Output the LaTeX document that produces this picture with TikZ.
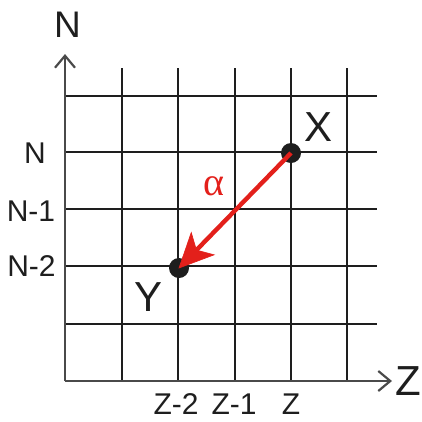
\documentclass[tikz,border=0pt]{standalone}
\usepackage{fontspec}
\setmainfont{Liberation Sans}
\newfontfamily\greekfont{Liberation Serif}
\usetikzlibrary{arrows.meta,calc}
\definecolor{ink}{HTML}{1E1E1E}
\definecolor{axisgray}{HTML}{4A4A4A}
\definecolor{arrowred}{HTML}{E3201B}
\tikzset{
  gridline/.style={ink, line width=1.6pt},
  axisline/.style={axisgray, line width=2.4pt, -{Straight Barb[length=12pt,width=20pt,line width=2.2pt]}},
  dotnode/.style={circle, fill=ink, inner sep=0pt, minimum size=20pt},
  ticklbl/.style={text=ink, font=\fontsize{30}{30}\selectfont, inner sep=0pt},
  biglbl/.style={text=ink, font=\fontsize{40}{40}\selectfont, inner sep=0pt},
  ptlbl/.style={text=ink, font=\fontsize{42}{42}\selectfont, inner sep=0pt},
  vec/.style={arrowred, line width=4.4pt},
  vechead/.style={fill=arrowred, draw=arrowred, line width=0.6pt, line join=miter}
}
\begin{document}
\begin{tikzpicture}[x=1pt,y=-1pt]
\useasboundingbox (0,0) rectangle (422,421);
% grid
\foreach \x in {122,178,235,291,347} \draw[gridline] (\x,68) -- (\x,381);
\foreach \y in {96,152,209,266,324} \draw[gridline] (65,\y) -- (377,\y);
% axes
\coordinate (O) at (65,381);
\coordinate (Ntop) at (65,54);
\coordinate (Zend) at (392,381);
\draw[axisline] (O) -- (Ntop);
\draw[axisline] (O) -- (Zend);
\node[biglbl, font=\fontsize{37}{37}\selectfont] (Nlab) at (67.5,25) {N};
\node[biglbl, font=\fontsize{42}{42}\selectfont] (Zlab) at (408,381) {Z};
% tick labels
\node[ticklbl] (t1) at (35,153.5) {N};
\node[ticklbl] (t2) at (31,211) {N-1};
\node[ticklbl] (t3) at (31.5,266.5) {N-2};
\node[ticklbl] (t4) at (176,404) {Z-2};
\node[ticklbl] (t5) at (234,404) {Z-1};
\node[ticklbl] (t6) at (291,404) {Z};
% points
\node[dotnode] (X) at (291,153) {};
\node[dotnode] (Y) at (179,268) {};
\node[ptlbl] (Xl) at (318.5,127) {X};
\node[ptlbl] (Yl) at (149,297.5) {Y};
% vector X -> Y
\coordinate (hb) at ($(Y.center)!34pt!(X.center)$);
\coordinate (hi) at ($(Y.center)!25pt!(X.center)$);
\coordinate (b1) at ($(hb)!16pt!90:(Y.center)$);
\coordinate (b2) at ($(hb)!16pt!-90:(Y.center)$);
\draw[vec] (X.center) -- (hi);
\filldraw[vechead] (Y.center) -- (b1) -- (hi) -- (b2) -- cycle;
\node[text=arrowred, font=\greekfont\fontsize{40}{40}\selectfont, inner sep=0pt] (alpha) at (213.5,186) {α};
\end{tikzpicture}
\end{document}
